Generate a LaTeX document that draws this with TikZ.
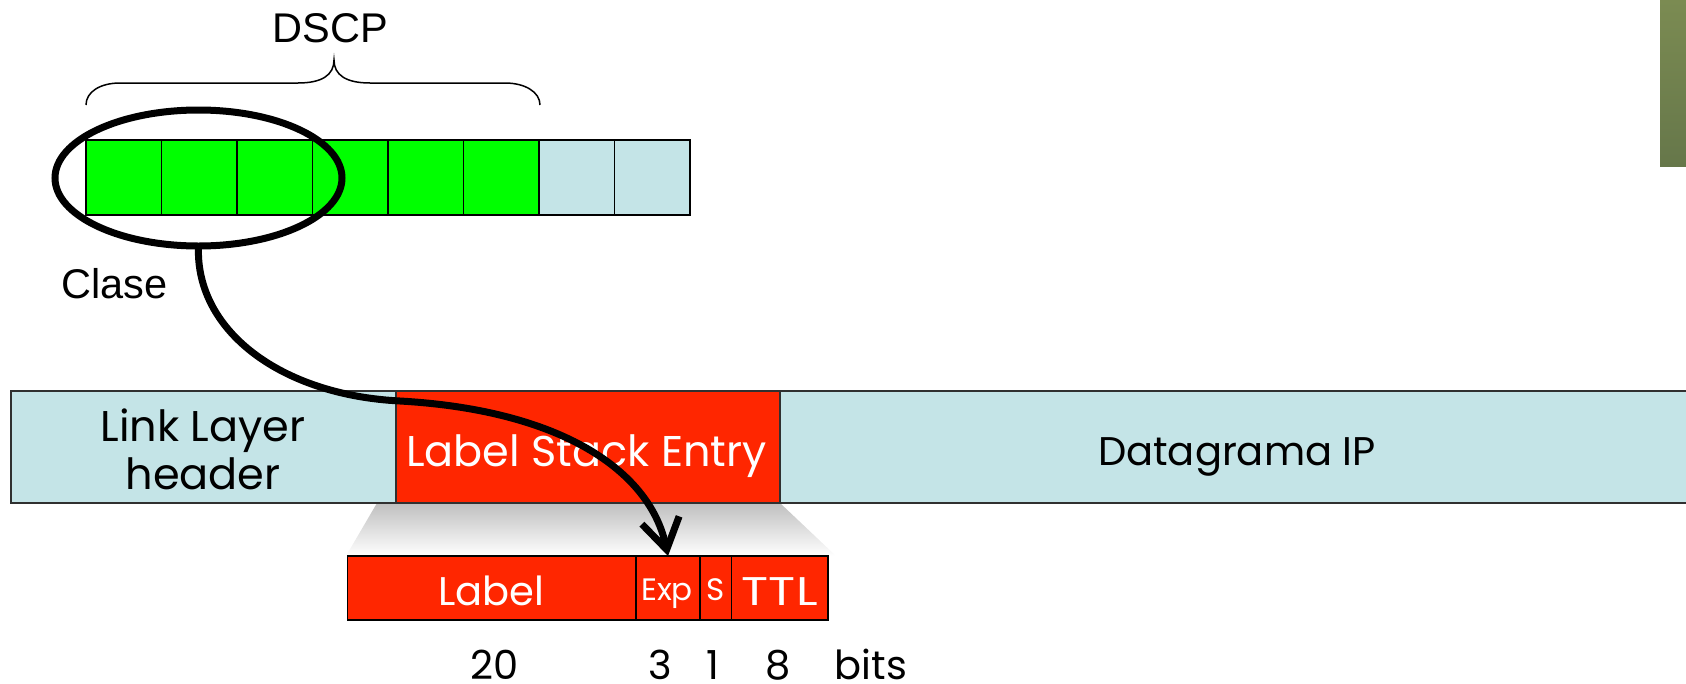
\documentclass[tikz,border=0pt]{standalone}
\usepackage{fontspec}
\setmainfont{Liberation Sans}
\newfontfamily\comicf{Poppins}
\usetikzlibrary{arrows.meta,shapes.geometric}
\definecolor{lblue}{HTML}{C4E4E7}
\definecolor{mred}{HTML}{FF2600}
\definecolor{mgreen}{HTML}{00FF00}
\definecolor{olivetop}{HTML}{7B8B52}
\definecolor{olivebot}{HTML}{66774A}
\definecolor{edgec}{HTML}{303030}
\begin{document}
\begin{tikzpicture}[x=1pt,y=-1pt,
  cell/.style={draw=black, line width=1.5pt, minimum width=75.5pt, minimum height=75pt, inner sep=0pt, outer sep=0pt, anchor=north west},
  seg/.style={draw=edgec, line width=1.8pt, inner sep=0pt, outer sep=0pt, anchor=north west, minimum height=112pt},
  field/.style={draw=black, line width=1.5pt, fill=mred, inner sep=0pt, outer sep=0pt, anchor=north west, minimum height=64pt},
  arial/.style={font=\fontsize{41.5}{48}\selectfont, inner sep=0pt, anchor=base},
  comic/.style={font=\comicf\fontsize{43}{50}\selectfont, inner sep=0pt, anchor=base},
  comicm/.style={font=\comicf\fontsize{40}{48}\selectfont, inner sep=0pt, anchor=base},
  small/.style={font=\comicf\fontsize{31}{36}\selectfont, inner sep=0pt, anchor=base},
]
\useasboundingbox (0,0) rectangle (1686,683);
\clip (0,0) rectangle (1686,683);
% olive strip
\shade[top color=olivetop, bottom color=olivebot] (1660,0) rectangle (1686,166);
% top byte
\foreach \i in {0,...,5} {\node[cell, fill=mgreen] (c\i) at ({86+75.5*\i},140) {};}
\foreach \i in {6,7} {\node[cell, fill=lblue] (c\i) at ({86+75.5*\i},140) {};}
% brace
\coordinate (bl) at (86,105);
\coordinate (br) at (540,105);
\draw[line width=1.5pt] (bl) .. controls (86,92) and (100,83) .. (120,83) -- (298,83)
  .. controls (322,83) and (334,75) .. (334,60)
  .. controls (334,75) and (346,83) .. (370,83) -- (505,83)
  .. controls (525,83) and (540,92) .. (br);
\node[arial] (dscp) at (330.5,42.7) {DSCP};
\node[arial] (clase) at (114.3,298) {Clase};
% ellipse
\node[draw, ellipse, line width=7pt, minimum width=287pt, minimum height=136pt, inner sep=0pt, outer sep=0pt] (cls) at (198.5,178) {};
% shadow
\shade[top color=black!25, bottom color=white] (377,503) -- (780,503) -- (836,556) -- (346,556) -- cycle;
% big bar
\node[seg, fill=lblue, minimum width=385pt] (llh) at (11,391) {};
\node[seg, fill=mred, minimum width=384pt] (lse) at (396,391) {};
\node[seg, fill=lblue, minimum width=912pt] (dip) at (780,391) {};
\node[comic] (t1) at (203,441) {Link Layer};
\node[comic] (t2) at (203,489) {header};
\node[comic, text=white] (t3) at (586.5,466.7) {Label Stack Entry};
\node[comicm] (t4) at (1237,465) {Datagrama IP};
% lower fields
\node[field, minimum width=288.5pt] (lab) at (347.5,556) {};
\node[field, minimum width=64pt] (exp) at (636,556) {};
\node[field, minimum width=31.5pt] (sb) at (700,556) {};
\node[field, minimum width=96.5pt] (ttl) at (731.5,556) {};
\node[comicm, text=white] (t5) at (491,605) {Label};
\node[small, text=white] (t6) at (667,600) {Exp};
\node[small, text=white] (t7) at (715.75,600) {S};
\node[comicm, text=white] (t8) at (779.75,605) {\scalebox{1.25}[1]{TTL}};
% numbers
\node[comicm] (n20) at (495,679) {20};
\node[comicm] (n3) at (660,679) {3};
\node[comicm] (n1) at (713,679) {1};
\node[comicm] (n8) at (778.5,679) {8};
\node[comicm] (nb) at (871,679) {bits};
% arrow
\draw[line width=7pt, -{Straight Barb[length=30pt,width=38pt]}] (cls.south)
  .. controls (195,330) and (280,395) .. (400,401)
  .. controls (560,410) and (650,470) .. (exp.north);
\end{tikzpicture}
\end{document}
